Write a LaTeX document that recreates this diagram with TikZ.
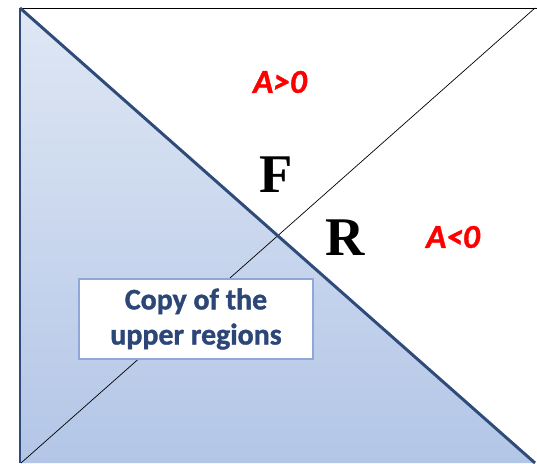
\documentclass[tikz,border=0pt]{standalone}
\usepackage{fontspec}
\setmainfont{Carlito}
\newfontfamily\letterfont{Liberation Serif}
\newfontfamily\heavyfont[FakeBold=1.2]{Carlito}
\usepackage{xcolor}
\usetikzlibrary{positioning,calc}
\definecolor{shadeTop}{HTML}{DFE7F4}
\definecolor{shadeBot}{HTML}{B3C6E7}
\definecolor{edgeBlue}{HTML}{2F4B7A}
\definecolor{boxBlue}{HTML}{8EA9D8}
\definecolor{textBlue}{HTML}{2B4677}

\begin{document}
\begin{tikzpicture}[
    x=0.02cm, y=-0.02cm,
    sign/.style={font=\fontsize{19}{19}\selectfont\heavyfont\bfseries\itshape, text=red},
    letter/.style={font=\fontsize{31}{31}\selectfont\letterfont\bfseries, text=black},
    copybox/.style={draw=boxBlue, fill=white, line width=0.6pt, minimum width=234*0.02cm, minimum height=80*0.02cm, align=center, font=\fontsize{17}{20}\selectfont\heavyfont\bfseries, text=textBlue}
  ]
  \useasboundingbox (0,0) rectangle (537,463);
  \coordinate (tl) at (20,8);
  \coordinate (bl) at (21,463);
  \coordinate (tr) at (535,8);
  \coordinate (te) at (537,8);
  \coordinate (br) at (535,463);

  % lower region, shaded
  \shade[top color=shadeTop, bottom color=shadeBot] (tl) -- (br) -- (bl) -- cycle;

  \draw[line width=0.4pt] (tl) -- (te);
  \draw[line width=0.4pt] (bl) -- (tr);
  \draw[edgeBlue, line width=1.7pt] (tl) -- (tl |- bl);
  \draw[edgeBlue, line width=1.7pt] (tl) -- (br);

  \node[sign] (apos) at (280,82) {A>0};
  \node[sign] (aneg) at (453,237) {A<0};
  \node[letter] (f) at (276,175) {F};
  \node[letter] (r) at (345,238) {R};
  \node[copybox] (copy) at (196,319) {Copy of the\\upper regions};
\end{tikzpicture}
\end{document}
